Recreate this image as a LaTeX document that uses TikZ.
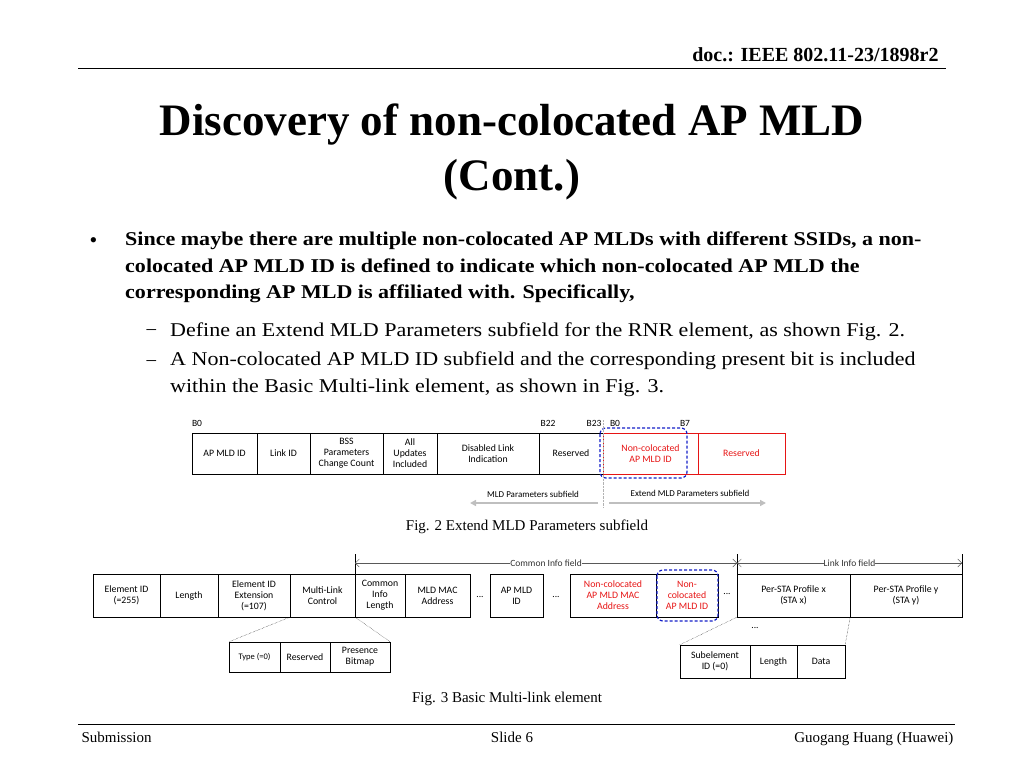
\documentclass[tikz,border=0pt]{standalone}
\usepackage{fontspec}
\setmainfont{Liberation Serif}
\newfontfamily\widefont{Liberation Serif}[FakeStretch=1.13]
\newfontfamily\calfont{Carlito}
\usetikzlibrary{arrows.meta}
\definecolor{redf}{RGB}{230,20,20}
\definecolor{bluef}{RGB}{20,30,200}
\begin{document}
\begin{tikzpicture}
      [%%%%%%%%%%%%%%%%%%%%%%%%%%%%%%
          x=1pt,y=-1pt,
          fld/.style={rectangle,draw=black,inner sep=0pt,align=center,
            font=\calfont\fontsize{9.8}{11}\selectfont},
          redfld/.style={fld,text=redf},
          lbl/.style={inner sep=0pt,font=\calfont\fontsize{9.5}{11}\selectfont},
          blubox/.style={draw=bluef,line width=1.2pt,dash pattern=on 3pt off 2pt,rounded corners=6pt},
          dots/.style={lbl},
          span/.style={{Straight Barb[length=4pt]}-{Straight Barb[length=4pt]},gray!70!black},
          thin dot/.style={densely dotted,thin}
      ]%%%%%%%%%%%%%%%%%%%%%%%%%%%%%%
  \useasboundingbox (0,0) rectangle (1024,768);

  % header and footer
  \node[anchor=east,font=\bfseries\fontsize{20}{24}\selectfont] (doc) at (942,55) {doc.: IEEE 802.11-23/1898r2};
  \draw (78,68) -- (946,68);
  \draw (78,724) -- (955,724);
  \node[anchor=base west,font=\fontsize{15}{18}\selectfont] (sub) at (78,742) {Submission};
  \node[anchor=base,font=\fontsize{15}{18}\selectfont] (slide) at (512,742) {Slide 6};
  \node[anchor=base east,font=\fontsize{15}{18}\selectfont] (auth) at (957,742) {Guogang Huang (Huawei)};

  % title
  \node[font=\bfseries\fontsize{45}{55}\selectfont,align=center] (title) at (512,152)
      {Discovery of non-colocated AP MLD\\(Cont.)};

  % bullets
  \node[anchor=west,font=\fontsize{22}{22}\selectfont] (bul) at (86,243) {•};
  \node[anchor=north west,text width=850,align=flush left,inner sep=0pt,
        font=\widefont\bfseries\fontsize{19.5}{26.5}\selectfont] (b1) at (125,232)
      {Since maybe there are multiple non-colocated AP MLDs with different SSIDs, a non-\linebreak colocated AP MLD ID is defined to indicate which non-colocated AP MLD the\linebreak corresponding AP MLD is affiliated with. Specifically,};
  \node[anchor=west,font=\fontsize{19}{22}\selectfont] (d1) at (143,332) {--};
  \node[anchor=west,font=\fontsize{19}{22}\selectfont] (d2) at (143,363) {--};
  \node[anchor=west,inner sep=0pt,font=\widefont\fontsize{19.5}{22}\selectfont] (s1) at (170,332)
      {Define an Extend MLD Parameters subfield for the RNR element, as shown Fig. 2.};
  \node[anchor=north west,text width=820,align=flush left,inner sep=0pt,
        font=\widefont\fontsize{19.5}{27}\selectfont] (s2) at (170,352)
      {A Non-colocated AP MLD ID subfield and the corresponding present bit is included\\within the Basic Multi-link element, as shown in Fig. 3.};

  % Fig. 2
  \foreach \lx/\lt in {197/B0,548/B22,594/B23,615/B0,685/B7}
      \node[lbl] at (\lx,423) {\lt};
  \node[fld,minimum width=65,minimum height=41] (apid) at (224.5,453.5) {AP MLD ID};
  \node[fld,minimum width=53,minimum height=41] (lid) at (283.5,453.5) {Link ID};
  \node[fld,minimum width=73,minimum height=41] (bss) at (346.5,453.5) {BSS\\Parameters\\Change Count};
  \node[fld,minimum width=54,minimum height=41] (allu) at (410,453.5) {All\\Updates\\Included};
  \node[fld,minimum width=102,minimum height=41] (dis) at (488,453.5) {Disabled Link\\Indication};
  \node[fld,minimum width=64,minimum height=41] (res) at (571,453.5) {Reserved};
  \node[redfld,draw=redf,minimum width=95,minimum height=41] (ncid) at (650.5,453.5) {Non-colocated\\AP MLD ID};
  \node[redfld,draw=redf,minimum width=87,minimum height=41] (nres) at (741.5,453.5) {Reserved};
  \draw[blubox] (600,428) rectangle (687,478);
  \draw[gray!60,densely dotted] (603,420) -- (603,508);
  \node[lbl,font=\calfont\fontsize{9}{11}\selectfont] (mldp) at (533,494) {MLD Parameters subfield};
  \node[lbl,font=\calfont\fontsize{9}{11}\selectfont] (emldp) at (690,493) {Extend MLD Parameters subfield};
  \draw[-{Triangle[length=6pt,width=6pt]},gray!50,line width=1.5pt] (598,503) -- (470,503);
  \draw[-{Triangle[length=6pt,width=6pt]},gray!50,line width=1.5pt] (609,503) -- (766,503);
  \node[font=\fontsize{15}{18}\selectfont] (cap2) at (527,527) {Fig. 2 Extend MLD Parameters subfield};

  % Fig. 3
  \node[fld,minimum width=67,minimum height=43] (eid) at (126.5,595.5) {Element ID\\(=255)};
  \node[fld,minimum width=58,minimum height=43] (len) at (189,595.5) {Length};
  \node[fld,minimum width=72,minimum height=43] (eidx) at (254,595.5) {Element ID\\Extension\\(=107)};
  \node[fld,minimum width=65,minimum height=43] (mlc) at (322.5,595.5) {Multi-Link\\Control};
  \node[fld,minimum width=50,minimum height=43] (cil) at (380,595.5) {Common\\Info\\Length};
  \node[fld,minimum width=65,minimum height=43] (mac) at (437.5,595.5) {MLD MAC\\Address};
  \node[fld,minimum width=53,minimum height=43] (apmld) at (516.5,595.5) {AP MLD\\ID};
  \node[redfld,minimum width=86,minimum height=43] (ncmac) at (613,595.5) {Non-colocated\\AP MLD MAC\\Address};
  \node[redfld,minimum width=62,minimum height=43] (ncid3) at (687,595.5) {Non-\\colocated\\AP MLD ID};
  \node[fld,minimum width=113,minimum height=43] (psx) at (793.5,595.5) {Per-STA Profile x\\(STA x)};
  \node[fld,minimum width=112,minimum height=43] (psy) at (906,595.5) {Per-STA Profile y\\(STA y)};
  \draw[blubox] (657,570) rectangle (718,621);
  \node[dots] at (480,597) {...};
  \node[dots] at (556,597) {...};
  \node[dots] at (727,594) {...};
  \node[dots] at (755,628) {...};

  % field spans
  \coordinate (ci) at (355,563);
  \coordinate (li) at (737,563);
  \coordinate (le) at (962,563);
  \foreach \c in {ci,li,le}
      \draw[thin] (\c) ++(0,-9) -- ++(0,20);
  \draw[span] (ci) -- node[lbl,fill=white,inner xsep=0pt,text=black!80] {Common Info field} (li);
  \draw[span] (li) -- node[lbl,fill=white,inner xsep=0pt,text=black!80] {Link Info field} (le);

  % sub-fields
  \node[fld,minimum width=51,minimum height=30] (typ) at (254.5,657) {\fontsize{8.5}{10}\selectfont Type (=0)};
  \node[fld,minimum width=50,minimum height=30] (rsv) at (305,657) {Reserved};
  \node[fld,minimum width=60,minimum height=30] (pbm) at (360,657) {Presence\\Bitmap};
  \node[fld,minimum width=70,minimum height=33] (seid) at (715,661.5) {Subelement\\ID (=0)};
  \node[fld,minimum width=47,minimum height=33] (slen) at (773.5,661.5) {Length};
  \node[fld,minimum width=48,minimum height=33] (sdat) at (821,661.5) {Data};
  \draw[thin dot] (mlc.south west) -- (typ.north west);
  \draw[thin dot] (mlc.south east) -- (pbm.north east);
  \draw[thin dot] (psx.south west) -- (seid.north west);
  \draw[thin dot] (psx.south east) -- (sdat.north east);
  \node[font=\fontsize{15}{18}\selectfont] (cap3) at (507,699) {Fig. 3 Basic Multi-link element};

\end{tikzpicture}
\end{document}
